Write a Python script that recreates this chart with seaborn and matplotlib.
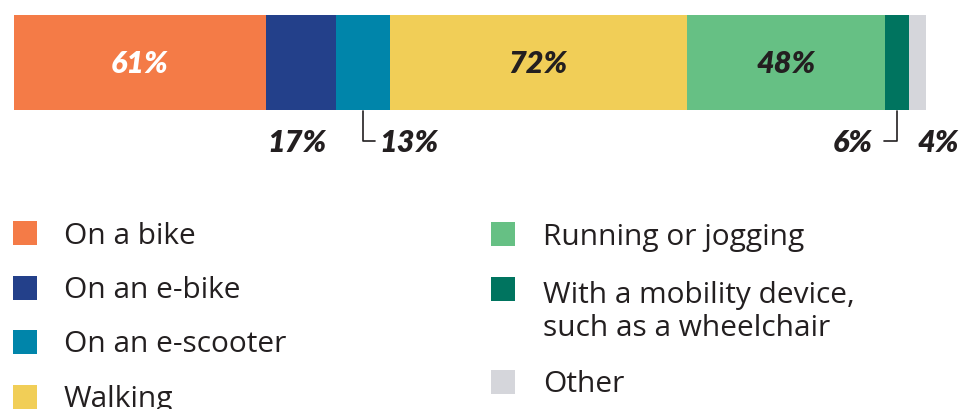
import matplotlib
matplotlib.use("Agg")
import matplotlib.pyplot as plt
import matplotlib.transforms as mtransforms
from matplotlib.patches import Rectangle
import numpy as np
import seaborn as sns

# data
modes = ["On a bike", "On an e-bike", "On an e-scooter", "Walking",
         "Running or jogging", "With a mobility device,\nsuch as a wheelchair", "Other"]
shares = [61, 17, 13, 72, 48, 6, 4]
colors = ["#F47B47", "#23408A", "#0085AA", "#F1CE57", "#66C084", "#00745F", "#D5D6DB"]

W, H = 960, 409
DARK = "#231F20"

sns.set_theme(style="white")
plt.rcParams["font.family"] = ["Lato", "DejaVu Sans"]

fig = plt.figure(figsize=(W / 100, H / 100), dpi=100)
ax = fig.add_axes([14 / W, 1 - 110 / H, 912 / W, 95 / H])

total = sum(shares)
cum = np.cumsum(shares)
starts = cum - np.array(shares)

# stacked bar: draw cumulative totals from longest to shortest
for c, col in reversed(list(zip(cum, colors))):
    sns.barplot(x=[c], y=[""], orient="h", color=col, width=1, saturation=1,
                ax=ax, linewidth=0)
ax.set_xlim(0, total)
ax.set_ylim(0.5, -0.5)
ax.axis("off")

# pixel helper (top-left origin) for layout outside the bar
px = mtransforms.Affine2D().scale(1 / W, -1 / H).translate(0, 1) + fig.transFigure
below = mtransforms.blended_transform_factory(ax.transData, px)
unit = total / 912  # data units per pixel

lab = dict(fontsize=22, fontweight="heavy", fontstyle="italic")

# labels inside
for i in [0, 3, 4]:
    ax.text(starts[i] + shares[i] / 2, 64, f"{shares[i]}%", transform=below,
            ha="center", va="center",
            color="white" if i == 0 else DARK, **lab)

# labels below
y_lab = 143
ax.text(cum[1] - 9 * unit, y_lab, f"{shares[1]}%", transform=below,
        ha="right", va="center", color=DARK, **lab)

m2 = starts[2] + shares[2] / 2
ax.plot([m2, m2, m2 + 12 * unit], [111, 141, 141], transform=below,
        color=DARK, lw=1.2, clip_on=False)
ax.text(m2 + 17 * unit, y_lab, f"{shares[2]}%", transform=below,
        ha="left", va="center", color=DARK, **lab)

m5 = starts[5] + shares[5] / 2
ax.plot([m5, m5, m5 - 13 * unit], [111, 141, 141], transform=below,
        color=DARK, lw=1.2, clip_on=False)
ax.text(m5 - 24 * unit, y_lab, f"{shares[5]}%", transform=below,
        ha="right", va="center", color=DARK, **lab)

m6 = starts[6] + shares[6] / 2
ax.text(m6, y_lab, f"{shares[6]}%", transform=below,
        ha="left", va="center", color=DARK, **lab)

# legend, two columns
col_x = [(13, 64), (491, 543)]
rows = [(0, 233), (0, 288), (0, 342), (0, 397), (1, 234), (1, 289), (1, 382)]
for (c, yc), name, col in zip(rows, modes, colors):
    sx, tx = col_x[c]
    fig.add_artist(Rectangle((sx, yc - 12), 24, 24, transform=px, color=col, lw=0))
    ty = yc + 3 + (20 if "\n" in name else 0)
    fig.text(tx, ty, name, transform=px, ha="left", va="center", fontsize=21.5,
             color=DARK, linespacing=1.2, family=["Open Sans", "DejaVu Sans"])

fig.savefig("out.png", dpi=100)
